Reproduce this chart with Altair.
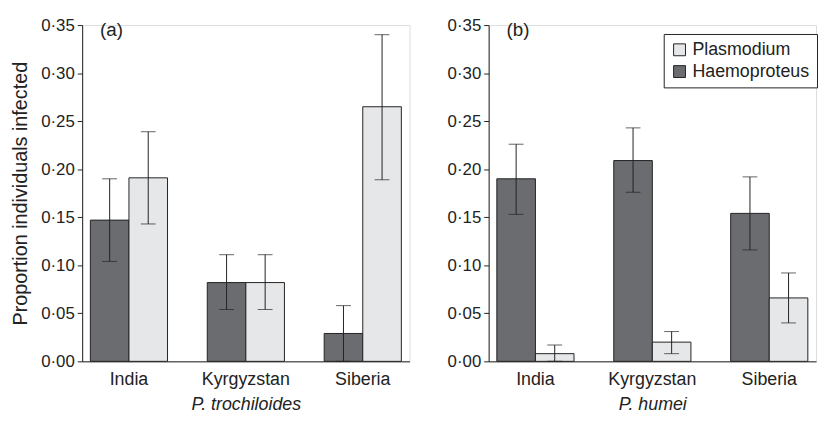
import altair as alt
import pandas as pd

countries = ["India", "Kyrgyzstan", "Siberia"]
parasites_bar_order = ["Haemoproteus", "Plasmodium"]
legend_order = ["Plasmodium", "Haemoproteus"]

# P. trochiloides
troch_haem = [0.147, 0.082, 0.029]
troch_haem_lo = [0.104, 0.054, 0.000]
troch_haem_hi = [0.190, 0.111, 0.058]
troch_plas = [0.191, 0.082, 0.265]
troch_plas_lo = [0.143, 0.054, 0.189]
troch_plas_hi = [0.239, 0.111, 0.340]

# P. humei
humei_haem = [0.190, 0.209, 0.154]
humei_haem_lo = [0.153, 0.176, 0.116]
humei_haem_hi = [0.226, 0.243, 0.192]
humei_plas = [0.008, 0.020, 0.066]
humei_plas_lo = [0.000, 0.008, 0.040]
humei_plas_hi = [0.017, 0.031, 0.092]

y_ticks = [0, 0.05, 0.10, 0.15, 0.20, 0.25, 0.30, 0.35]

DARK = "#6b6c70"
LIGHT = "#e6e7e9"
INK = "#222222"
FONT = "Liberation Sans"
FS = 18


def make_df(haem, haem_lo, haem_hi, plas, plas_lo, plas_hi):
    rows = []
    for i, c in enumerate(countries):
        rows.append({"country": c, "parasite": "Haemoproteus", "value": haem[i], "lo": haem_lo[i], "hi": haem_hi[i]})
        rows.append({"country": c, "parasite": "Plasmodium", "value": plas[i], "lo": plas_lo[i], "hi": plas_hi[i]})
    return pd.DataFrame(rows)


def panel(df, species, letter, y_title, show_legend):
    x_enc = alt.X(
        "country:N",
        sort=countries,
        scale=alt.Scale(paddingInner=0.34, paddingOuter=0.07),
        axis=alt.Axis(
            title=species,
            titleFontStyle="italic",
            titleFontWeight="normal",
            titleFontSize=FS,
            titlePadding=8,
            labelAngle=0,
            labelFontSize=FS,
            labelPadding=9,
            ticks=False,
            domainColor=INK,
            labelColor=INK,
            titleColor=INK,
        ),
    )
    base = alt.Chart(df).encode(
        x=x_enc,
        xOffset=alt.XOffset("parasite:N", sort=parasites_bar_order),
    )
    color_kwargs = dict(
        scale=alt.Scale(domain=legend_order, range=[LIGHT, DARK]),
    )
    if show_legend:
        color_kwargs["legend"] = alt.Legend(
            title=None,
            orient="none",
            legendX=177,
            legendY=9,
            strokeColor=INK,
            fillColor="white",
            padding=7,
            symbolType="square",
            symbolSize=144,
            symbolStrokeColor=INK,
            symbolStrokeWidth=1,
            labelFontSize=FS,
            labelColor=INK,
            rowPadding=4,
            labelLimit=300,
            symbolOpacity=1,
        )
    else:
        color_kwargs["legend"] = None
    y_axis_kwargs = dict(
        values=y_ticks,
        labelExpr="replace(format(datum.value, '.2f'), '.', '·')",
        grid=False,
        tickSize=5,
        labelPadding=3,
        labelFontSize=17,
        titleFontSize=20,
        titleFontWeight="normal",
        titlePadding=10,
        domainColor=INK,
        tickColor=INK,
        labelColor=INK,
        titleColor=INK,
    )
    if y_title:
        y_axis_kwargs["title"] = y_title
    else:
        y_axis_kwargs["title"] = None
    bars = base.mark_bar(stroke=INK, strokeWidth=1, opacity=1).encode(
        y=alt.Y(
            "value:Q",
            scale=alt.Scale(domain=[0, 0.35], nice=False, zero=True),
            axis=alt.Axis(**y_axis_kwargs),
        ),
        color=alt.Color("parasite:N", **color_kwargs),
    )
    rules = base.mark_rule(color=INK, strokeWidth=1).encode(y="lo:Q", y2="hi:Q")
    caps_lo = base.mark_tick(color=INK, size=15, thickness=1).encode(y="lo:Q")
    caps_hi = base.mark_tick(color=INK, size=15, thickness=1).encode(y="hi:Q")
    label = (
        alt.Chart(pd.DataFrame({"t": [letter]}))
        .mark_text(align="left", baseline="middle", fontSize=19, font=FONT, color=INK)
        .encode(x=alt.value(18), y=alt.value(5), text="t:N")
    )
    return alt.layer(bars, rules, caps_lo, caps_hi, label).properties(width=331, height=340)


df_a = make_df(troch_haem, troch_haem_lo, troch_haem_hi, troch_plas, troch_plas_lo, troch_plas_hi)
df_b = make_df(humei_haem, humei_haem_lo, humei_haem_hi, humei_plas, humei_plas_lo, humei_plas_hi)

pa = panel(df_a, "P. trochiloides", "(a)", "Proportion individuals infected", False)
pb = panel(df_b, "P. humei", "(b)", None, True)

chart = (
    alt.hconcat(pa, pb, spacing=36)
    .resolve_scale(color="independent")
    .properties(padding={"left": 2, "top": 5, "right": 0, "bottom": 0})
    .configure_view(stroke=None)
    .configure(font=FONT)
)

chart.save("out.html", embed_options={"renderer": "svg", "actions": False})
